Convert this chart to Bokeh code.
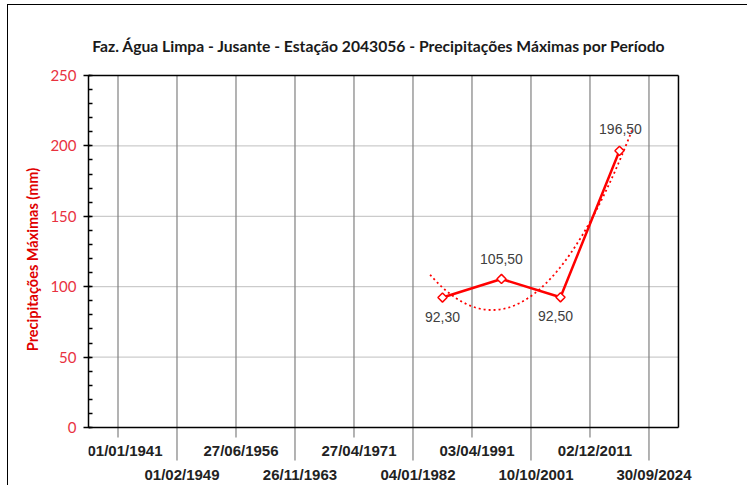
import numpy as np
from bokeh.plotting import figure
from bokeh.models import Range1d, FixedTicker, ColumnDataSource
from bokeh.core.properties import value
from bokeh.embed import file_html
from bokeh.resources import INLINE

# ---- data ----
title_text = "Faz. Água Limpa - Jusante -  Estação 2043056 - Precipitações  Máximas por Período"
y_title = "Precipitações Máximas (mm)"
date_labels = ["01/01/1941", "01/02/1949", "27/06/1956", "26/11/1963", "27/04/1971",
               "04/01/1982", "03/04/1991", "10/10/2001", "02/12/2011", "30/09/2024"]
period_start = ["04/01/1982", "03/04/1991", "10/10/2001", "02/12/2011"]
precip_max = [92.30, 105.50, 92.50, 196.50]
precip_text = ["92,30", "105,50", "92,50", "196,50"]
y_ticks = [0, 50, 100, 150, 200, 250]
y_minor = [v for v in range(0, 251, 10)]

# ---- derived positions ----
cat_x = list(range(len(date_labels)))
pt_x = [date_labels.index(s) + 0.5 for s in period_start]

RED = "#FF0000"

p = figure(frame_width=659, frame_height=452,
           min_border_left=80, min_border_right=0, min_border_top=28, min_border_bottom=0,
           x_range=Range1d(-0.5, 10.67), y_range=Range1d(-41.19, 279.83),
           output_backend="svg", toolbar_location=None)
p.outline_line_color = None
p.background_fill_color = "white"
p.border_fill_color = "white"
p.xgrid.visible = False
p.ygrid.visible = False
p.xaxis.visible = False
p.styles = {"margin-left": "6.5px", "margin-top": "3.5px",
            "border-top": "1.5px solid #000", "border-left": "1.5px solid #000"}

# y axis
ya = p.yaxis[0]
ya.ticker = FixedTicker(ticks=y_ticks, minor_ticks=y_minor)
ya.bounds = (0, 250)
ya.axis_line_color = "black"
ya.axis_line_width = 1.5
ya.major_tick_out = 5
ya.major_tick_in = 2
ya.major_tick_line_color = "black"
ya.major_tick_line_width = 1.5
ya.minor_tick_in = 4
ya.minor_tick_out = 0
ya.minor_tick_line_color = "black"
ya.minor_tick_line_width = 1.5
ya.major_label_standoff = 7
ya.major_label_text_font = "Lato"
ya.major_label_text_font_size = "15px"
ya.major_label_text_color = "#E8323F"
ya.axis_label = y_title
ya.axis_label_text_font = "Lato"
ya.axis_label_text_font_style = "bold"
ya.axis_label_text_font_size = "14.5px"
ya.axis_label_text_color = "#E00000"
ya.axis_label_standoff = 6

# title (drawn inside the extended frame)
p.text(x=[4.49], y=[270.6], text=[title_text],
       text_font=value("Lato"), text_font_style="bold", text_font_size="15.7px",
       text_color="#1a1a1a", text_align="center", text_baseline="middle")

# horizontal gridlines
hg = [t for t in y_ticks if 0 < t < 250]
p.segment(x0=[-0.5] * len(hg), x1=[9.5] * len(hg), y0=hg, y1=hg,
          line_color="#BFBFBF", line_width=1)

# vertical gridlines extending to the labels (staggered rows)
vg_bottom = [-7.1 if i % 2 == 0 else -23.4 for i in cat_x]
p.segment(x0=cat_x, x1=cat_x, y0=[250] * len(cat_x), y1=vg_bottom,
          line_color="#808080", line_width=1.2)

# frame top, right, bottom
p.segment(x0=[-0.5, 9.5, -0.5], x1=[9.5, 9.5, 9.5], y0=[250, 250, 0], y1=[250, 0, 0],
          line_color="black", line_width=1.5)

# category labels
row_y = [-16.5 if i % 2 == 0 else -33.5 for i in cat_x]
lab_xo = [7] + [5] * (len(cat_x) - 1)
p.text(x=cat_x, y=row_y, text=date_labels, x_offset=lab_xo,
       text_font=value("Liberation Sans"), text_font_style="bold",
       text_font_size="15px", text_color="#222222",
       text_align="center", text_baseline="middle")

# polynomial trendline (order 2)
coef = np.polyfit(pt_x, precip_max, 2)
tx = np.linspace(pt_x[0] - 0.21, pt_x[-1] + 0.21, 200)
p.line(tx, np.polyval(coef, tx), line_color=RED, line_width=1.8, line_dash="2 3")

# series
src = ColumnDataSource(dict(x=pt_x, y=precip_max, t=precip_text,
                            yo=[19, -20, 19, -22], xo=[0, 0, -5, 1]))
p.line("x", "y", source=src, line_color=RED, line_width=2.5)
p.scatter("x", "y", source=src, marker="square", angle=np.pi / 4, size=6.5,
          fill_color="white", line_color=RED, line_width=1.5)
p.text("x", "y", text="t", source=src, x_offset="xo", y_offset="yo",
       text_font=value("Liberation Sans"), text_font_size="14px", text_color="#404040",
       text_align="center", text_baseline="middle")

open("out.html", "w").write(file_html(p, INLINE))
